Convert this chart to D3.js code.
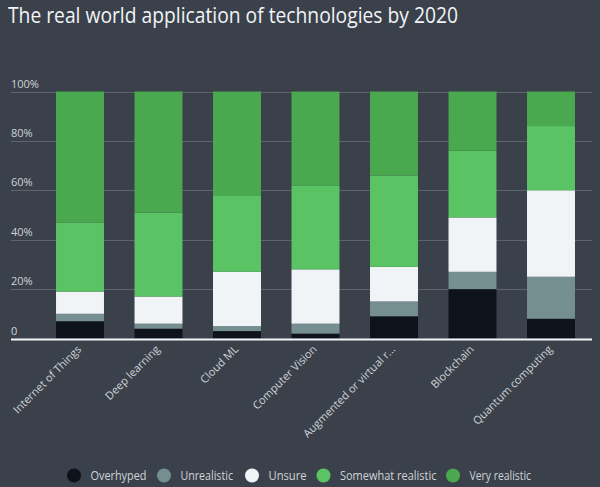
<!DOCTYPE html>
<html>
<head>
<meta charset="utf-8">
<script src="https://cdn.jsdelivr.net/npm/d3@7"></script>
<style>
  html, body { margin: 0; padding: 0; background: #3a414b; }
  svg { display: block; font-family: "Open Sans", "Noto Sans", sans-serif; }
</style>
</head>
<body>
<div id="chart"></div>
<script>
// data (percent of respondents)
var categories = ["Internet of Things", "Deep learning", "Cloud ML", "Computer Vision",
                  "Augmented or virtual r...", "Blockchain", "Quantum computing"];
var seriesNames = ["Overhyped", "Unrealistic", "Unsure", "Somewhat realistic", "Very realistic"];
var overhyped   = [7, 4, 3, 2, 9, 20, 8];
var unrealistic = [3, 2, 2, 4, 6, 7, 17];
var unsure      = [9, 11, 22, 22, 14, 22, 35];
var somewhat    = [28, 34, 31, 34, 37, 27, 26];
var very        = [53, 49, 42, 38, 34, 24, 14];
var tickValues  = [0, 20, 40, 60, 80, 100];
var tickLabels  = ["0", "20%", "40%", "60%", "80%", "100%"];

var colors = ["#0e131b", "#758e90", "#f1f4f6", "#5ac464", "#4aa84e"];

var width = 600, height = 487;
var svg = d3.select('#chart').append('svg')
  .attr('width', width)
  .attr('height', height);

svg.append('rect').attr('width', width).attr('height', height).attr('fill', '#3a414b');

// title
svg.append('text')
  .attr('x', 8).attr('y', 23)
  .attr('fill', '#f2f4f6')
  .attr('font-size', 21)
  .attr('textLength', 450)
  .attr('lengthAdjust', 'spacingAndGlyphs')
  .text('The real world application of technologies by 2020');

// build rows for the stack
var rows = categories.map(function (c, i) {
  return { cat: c, Overhyped: overhyped[i], Unrealistic: unrealistic[i], Unsure: unsure[i],
           "Somewhat realistic": somewhat[i], "Very realistic": very[i] };
});
var stacked = d3.stack().keys(seriesNames)(rows);

var x = d3.scaleBand()
  .domain(categories)
  .range([40.75, 590.25])
  .paddingInner(0.389)
  .paddingOuter(0.1945);

var y = d3.scaleLinear().domain([0, 100]).range([338.5, 91.5]);

// gridlines + tick labels
var grid = svg.append('g');
grid.selectAll('line').data(tickValues.slice(1)).enter()
  .append('line')
  .attr('x1', 11).attr('x2', 592)
  .attr('y1', function (d) { return Math.round(y(d)) + 0.5; })
  .attr('y2', function (d) { return Math.round(y(d)) + 0.5; })
  .attr('stroke', '#5d646d')
  .attr('stroke-width', 1);

grid.selectAll('text').data(tickValues).enter()
  .append('text')
  .attr('x', 11)
  .attr('y', function (d) { return y(d) - 4; })
  .attr('fill', '#cfd3d8')
  .attr('font-size', 11)
  .text(function (d, i) { return tickLabels[i]; });

// bars
svg.append('g').selectAll('g').data(stacked).enter()
  .append('g')
  .attr('fill', function (d, i) { return colors[i]; })
  .selectAll('rect').data(function (d) { return d; }).enter()
  .append('rect')
  .attr('x', function (d) { return x(d.data.cat); })
  .attr('width', x.bandwidth())
  .attr('y', function (d) { return y(d[1]); })
  .attr('height', function (d) { return y(d[0]) - y(d[1]); });

// baseline
svg.append('line')
  .attr('x1', 11).attr('x2', 592)
  .attr('y1', 339.5).attr('y2', 339.5)
  .attr('stroke', '#f4f6f8').attr('stroke-width', 2);

// x labels, rotated
svg.append('g').selectAll('text').data(categories).enter()
  .append('text')
  .attr('transform', function (d) {
    return 'translate(' + (x(d) + x.bandwidth() / 2 + 2) + ',350) rotate(-45)';
  })
  .attr('text-anchor', 'end')
  .attr('fill', '#cfd3d8')
  .attr('font-size', 11)
  .text(function (d) { return d; });

// legend
var legendX = [74, 164, 252, 323.5, 453];
var legendW = [56, 52.5, 38, 96.5, 61.5];
var legend = svg.append('g').selectAll('g').data(seriesNames).enter()
  .append('g')
  .attr('transform', function (d, i) { return 'translate(' + legendX[i] + ',475.5)'; });
legend.append('circle').attr('r', 7).attr('fill', function (d, i) { return colors[i]; });
legend.append('text')
  .attr('x', 16.5).attr('dy', '0.35em')
  .attr('fill', '#cfd3d8')
  .attr('font-size', 13)
  .attr('textLength', function (d, i) { return legendW[i]; })
  .attr('lengthAdjust', 'spacingAndGlyphs')
  .text(function (d) { return d; });
</script>
</body>
</html>
